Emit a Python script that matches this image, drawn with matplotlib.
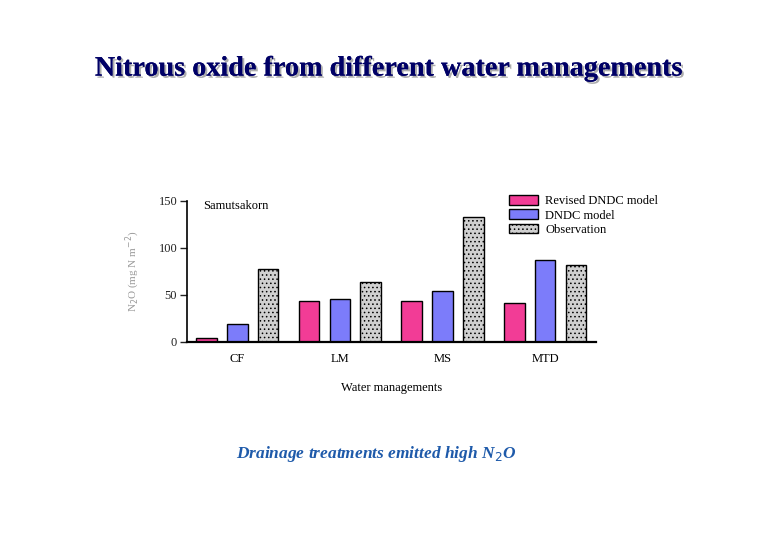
import matplotlib
matplotlib.use("Agg")
import matplotlib.pyplot as plt
import matplotlib.patheffects as pe
import numpy as np

categories = ["CF", "LM", "MS", "MTD"]
revised_dndc = [4.2, 43.4, 43.4, 41.3]
dndc_model = [19.5, 46.0, 54.0, 87.3]
observation = [77.3, 63.6, 133.0, 82.3]
series_names = ["Revised DNDC model", "DNDC model", "Observation"]
yticks = [0, 50, 100, 150]

plt.rcParams["font.family"] = ["Liberation Serif", "DejaVu Serif"]
plt.rcParams["hatch.color"] = "#707070"
plt.rcParams["hatch.linewidth"] = 0.6

fig = plt.figure(figsize=(7.8, 5.4), dpi=100)
ax = fig.add_axes([0.2397, 0.3667, 0.525, 0.2613])

x = np.arange(len(categories))
w = 0.2
off = 0.3
ax.bar(x - off, revised_dndc, w, color="#F23C96", edgecolor="black", linewidth=1.0, label=series_names[0])
ax.bar(x, dndc_model, w, color="#7C7CFA", edgecolor="black", linewidth=1.0, label=series_names[1])
ax.bar(x + off, observation, w, color="#D0D0D0", edgecolor="black", linewidth=1.0,
       hatch="....", label=series_names[2])

ax.set_xlim(-0.49, 3.5)
ax.set_ylim(0, 150)
ax.set_yticks(yticks)
ax.set_xticks(x)
ax.set_xticklabels(categories)
ax.tick_params(axis="x", length=0, labelsize=9, pad=8)
ax.tick_params(axis="y", length=5, width=1.0, labelsize=9, pad=2, colors="#222222")
for s in ["top", "right"]:
    ax.spines[s].set_visible(False)
ax.spines["left"].set_linewidth(1.2)
ax.spines["bottom"].set_linewidth(1.6)

ax.set_xlabel("Water managements", fontsize=9, labelpad=12)
ax.set_ylabel("N$_2$O (mg N m$^{-2}$)", fontsize=8, color="#999999", labelpad=12)

ax.text(0.04, 0.965, "Samutsakorn", transform=ax.transAxes, fontsize=9, va="center", ha="left")

leg = fig.legend(loc="upper left", bbox_to_anchor=(0.646, 0.648), frameon=False, fontsize=9,
                 handlelength=2.3, handleheight=0.8, handletextpad=0.6,
                 labelspacing=0.18, borderaxespad=0)

fig.text(0.5, 0.872, "Nitrous oxide from different water managements", ha="center", va="center",
         fontsize=20.3, fontweight="bold", color="#000066",
         path_effects=[pe.withSimplePatchShadow(offset=(1.5, -1.5), shadow_rgbFace="#999999", alpha=0.8),
                       pe.Normal()])

fig.text(0.482, 0.16, "Drainage treatments emitted high N$_2$O", ha="center", va="center",
         fontsize=12.5, fontweight="bold", fontstyle="italic", color="#1E5AAA")

fig.savefig("out.png", dpi=100)
